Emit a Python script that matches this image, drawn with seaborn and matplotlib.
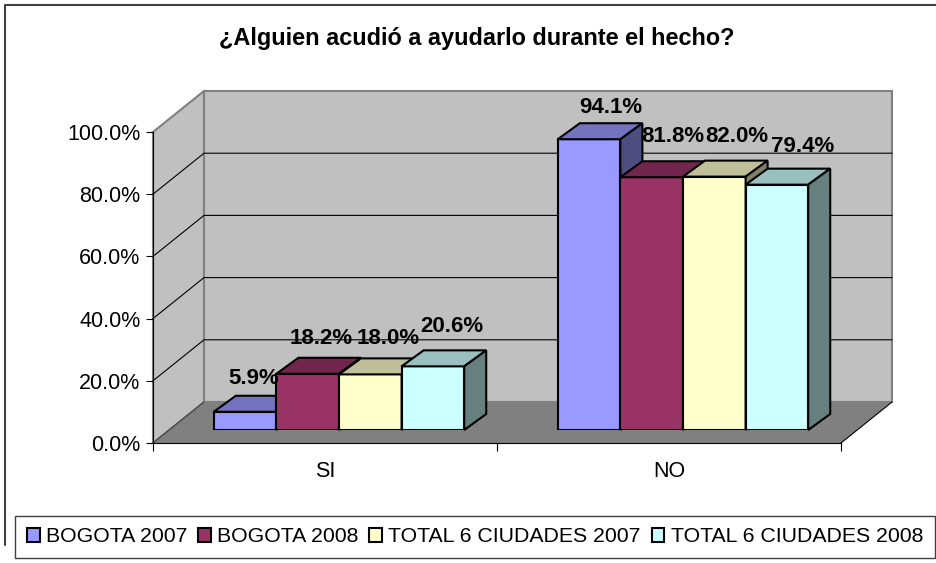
import matplotlib
matplotlib.use("Agg")
import matplotlib.pyplot as plt
from matplotlib.patches import Polygon
import pandas as pd
import seaborn as sns

# Data
categories = ["SI", "NO"]
series_names = ["BOGOTA 2007", "BOGOTA 2008", "TOTAL 6 CIUDADES 2007", "TOTAL 6 CIUDADES 2008"]
bogota_2007 = [5.9, 94.1]
bogota_2008 = [18.2, 81.8]
total_2007 = [18.0, 82.0]
total_2008 = [20.6, 79.4]
y_ticks = [0, 20, 40, 60, 80, 100]
title = "¿Alguien acudió a ayudarlo durante el hecho?"

rows = []
for name, vals in zip(series_names, [bogota_2007, bogota_2008, total_2007, total_2008]):
    for cat, v in zip(categories, vals):
        rows.append({"cat": cat, "serie": name, "valor": v})
df = pd.DataFrame(rows)

sns.set_theme(style="white")
plt.rcParams["font.family"] = ["Liberation Sans", "DejaVu Sans"]

W, H = 937, 563
colors = ["#9999FF", "#993366", "#FFFFCC", "#CCFFFF"]
top_colors = ["#7373BF", "#73264D", "#BFBF99", "#99BFBF"]
side_colors = ["#4D4D80", "#4D1A33", "#808066", "#668080"]

# 3D box geometry, in pixels
fx0, fx1, fy0, fy1 = 153, 841, 443, 132   # front plane of the chart
wall_dx, wall_dy = 51, -41
bar_dx, bar_dy = 14, -13                  # where the bars stand on the floor
depth_dx, depth_dy = 22, -16              # bar depth


def axes_rect(x0, x1, y0, y1):
    return [x0 / W, 1 - y0 / H, (x1 - x0) / W, (y0 - y1) / H]


fig = plt.figure(figsize=(W / 100, H / 100), dpi=100)

# Background layer: walls, floor, frame
ax_px = fig.add_axes([0, 0, 1, 1], zorder=0)
ax_px.set_xlim(0, W)
ax_px.set_ylim(H, 0)
ax_px.axis("off")
ax_px.plot([5, 5, W], [545, 5, 5], color="#404040", lw=1.5, clip_on=False)

bx0, bx1 = fx0 + wall_dx, fx1 + wall_dx
by0, by1 = fy0 + wall_dy, fy1 + wall_dy
wall_edge = "#808080"
ax_px.add_patch(Polygon([(fx0, fy1), (bx0, by1), (bx0, by0), (fx0, fy0)], fc="#C0C0C0", ec=wall_edge, lw=1.5))
ax_px.add_patch(Polygon([(bx0, by1), (bx1, by1), (bx1, by0), (bx0, by0)], fc="#C0C0C0", ec=wall_edge, lw=1.5))
ax_px.add_patch(Polygon([(fx0, fy0), (bx0, by0), (bx1, by0), (fx1, fy0)], fc="#808080", ec="none"))
ax_px.plot([fx1, bx1], [fy0, by0], color="black", lw=0.8)
ax_px.plot([fx0, bx0], [fy0, by0], color="#404040", lw=0.8)

# Gridlines on both walls (the 100% one is the grey wall edge)
for t in y_ticks[1:-1]:
    gy = fy0 + (fy1 - fy0) * t / 100
    ax_px.plot([fx0, bx0, bx1], [gy, gy + wall_dy, gy + wall_dy], color="black", lw=0.8,
               solid_joinstyle="miter")

# Axis layer on the front plane
ax_front = fig.add_axes(axes_rect(fx0, fx1, fy0, fy1), zorder=1)
ax_front.patch.set_alpha(0)
ax_front.set_xlim(0, 2)
ax_front.set_ylim(0, 100)
ax_front.set_yticks(y_ticks)
ax_front.set_yticklabels([f"{t:.1f}%" for t in y_ticks], fontsize=15.5, color="black")
ax_front.set_xticks([0, 1, 2])
ax_front.set_xticklabels([])
ax_front.set_xticks([0.5, 1.5], labels=categories, minor=True, fontsize=15.5, color="black")
ax_front.tick_params(axis="y", which="major", left=True, length=5, width=0.8, color="black", pad=4)
ax_front.tick_params(axis="x", which="major", bottom=True, length=6, width=0.8, color="black")
ax_front.tick_params(axis="x", which="minor", bottom=False, pad=9)
for side in ["top", "right"]:
    ax_front.spines[side].set_visible(False)
for side in ["left", "bottom"]:
    ax_front.spines[side].set_color("black")
    ax_front.spines[side].set_linewidth(0.8)

# Bars on their own plane, lifted off the front edge
ax = fig.add_axes(axes_rect(fx0 + bar_dx, fx1 + bar_dx, fy0 + bar_dy, fy1 + bar_dy + 2), zorder=2)
ax.patch.set_alpha(0)
sns.barplot(data=df, x="cat", y="valor", hue="serie", order=categories, hue_order=series_names,
            palette=colors, saturation=1, width=0.728, gap=0, edgecolor="black", linewidth=1.5,
            errorbar=None, ax=ax)
ax.set_xlim(-0.5, 1.5)
ax.set_ylim(0, 100)
ax.set_xlabel("")
ax.set_ylabel("")
for s in ax.spines.values():
    s.set_visible(False)
ax.set_xticks([])
ax.set_yticks([])

fig.canvas.draw()
to_px = ax.transData + ax_px.transData.inverted()

# nudges (px) for the data labels, same order as the categories
label_dx = {"SI": [9, 13, 18, 19], "NO": [22, 21, 23, 26]}
label_dy = {"SI": [-33, -35, -36, -40], "NO": [-32, -41, -40, -38]}

# Extrude each bar, left to right so that neighbours overlap properly
z = 3
for c_idx, cat in enumerate(categories):
    for s_idx, container in enumerate(ax.containers):
        rect = container[c_idx]
        (x0, y0) = to_px.transform((rect.get_x(), rect.get_y()))
        (x1, y1) = to_px.transform((rect.get_x() + rect.get_width(), rect.get_y() + rect.get_height()))
        rect.set_zorder(z)
        top = [(x0, y1), (x1, y1), (x1 + depth_dx, y1 + depth_dy), (x0 + depth_dx, y1 + depth_dy)]
        side = [(x1, y0), (x1, y1), (x1 + depth_dx, y1 + depth_dy), (x1 + depth_dx, y0 + depth_dy)]
        for pts, col in [(top, top_colors[s_idx]), (side, side_colors[s_idx])]:
            ax.add_patch(Polygon(pts, closed=True, fc=col, ec="black", lw=1.5, zorder=z,
                                 transform=ax_px.transData, clip_on=False))
        ax.text((x0 + x1) / 2 + label_dx[cat][s_idx], y1 + label_dy[cat][s_idx], f"{rect.get_height():.1f}%",
                transform=ax_px.transData, ha="center", va="center", fontsize=16, fontweight="bold",
                color="black", zorder=50, clip_on=False)
        z += 1

fig.text(477 / W, 1 - 38 / H, title, ha="center", va="center", fontsize=16.9, fontweight="bold", color="black")

# Legend built by seaborn, moved to the bottom box
sns.move_legend(ax, "center", bbox_to_anchor=(475 / W, 1 - 537 / H), bbox_transform=fig.transFigure,
                ncol=4, title=None, frameon=True, fancybox=False, edgecolor="#404040", framealpha=1,
                fontsize=15.3, handlelength=0.6, handleheight=0.6, handletextpad=0.3, columnspacing=0.5,
                borderpad=0.55, labelcolor="black")
ax.get_legend().set_zorder(60)
ax.get_legend().get_frame().set_linewidth(1.0)

fig.savefig("out.png", dpi=100)
